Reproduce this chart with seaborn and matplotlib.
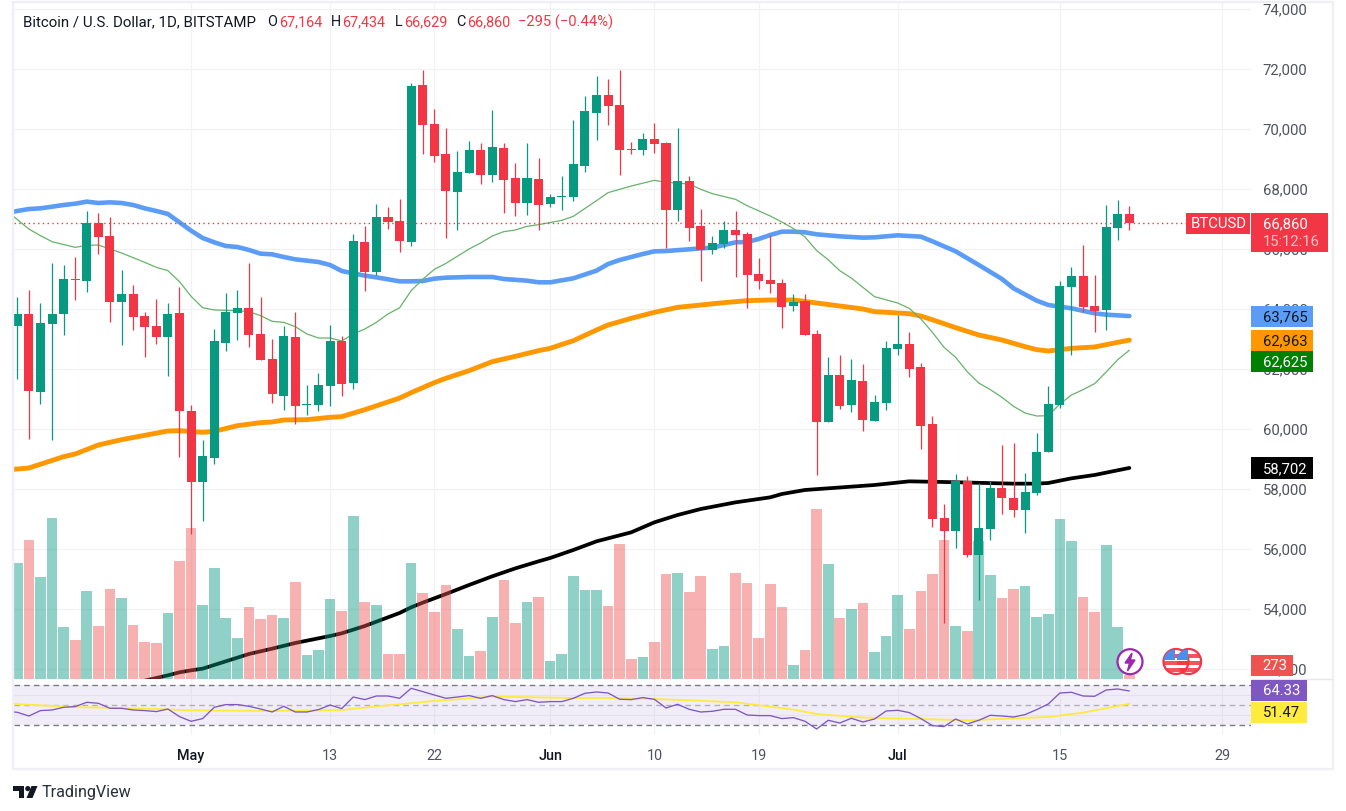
import numpy as np
import pandas as pd
import seaborn as sns
import matplotlib.pyplot as plt
from matplotlib.patches import Rectangle, Circle, Polygon
from matplotlib.transforms import ScaledTranslation

W, H = 1346, 812

# daily candles, Apr 16 is bar 1
opens = [63444, 63833, 61244, 63500, 63833, 65000, 64933, 66867, 66433, 64233, 64500, 63767, 63433, 63067, 63867, 60600,
         58233, 59033, 62867, 63867, 64033, 63167, 62333, 61100, 63067, 60800, 60800, 61433, 62933, 61533, 66233, 65233,
         67067, 66933, 66233, 71467, 70167, 69167, 67900, 68533, 69300, 68467, 69367, 68367, 67533, 68333, 67500, 67733,
         67733, 68767, 70533, 71133, 70800, 69333, 69300, 69667, 69533, 67300, 68267, 66767, 65967, 66167, 66633, 66500,
         65167, 64967, 64867, 64100, 64267, 63167, 60233, 61800, 60800, 61600, 60267, 60867, 62667, 62833, 62067, 60167,
         57033, 56600, 58267, 55800, 56667, 58033, 57700, 57300, 57867, 59233, 60800, 64733, 65100, 64100, 63967, 66700, 67164]
highs = [64400, 64633, 64200, 65533, 65467, 65733, 67267, 67200, 67067, 65300, 64800, 63900, 64333, 64200, 64733, 60800,
         59633, 63333, 64533, 64633, 65533, 64400, 63000, 63433, 63900, 61467, 61867, 63467, 63100, 66500, 66767, 67500,
         67400, 67667, 71533, 71967, 70667, 70033, 69267, 69600, 69533, 70633, 69533, 68867, 69533, 69033, 67833, 68433,
         70300, 71100, 71767, 71667, 71967, 69567, 69867, 70200, 69567, 70033, 68433, 67333, 66433, 66933, 67267, 66567,
         65700, 66467, 65000, 64500, 64500, 63300, 62400, 62467, 62333, 62167, 61133, 62933, 63800, 63233, 62200, 60433,
         57500, 58500, 58433, 58200, 58267, 59467, 59533, 58533, 59867, 61433, 64933, 65400, 66133, 65133, 67467, 67633, 67434]
lows = [61667, 59667, 60833, 59633, 63133, 64300, 64567, 65833, 63567, 62800, 63300, 62400, 62833, 61767, 59067, 56500,
        56944, 58833, 62600, 62967, 62733, 62300, 60867, 60633, 60167, 60467, 60600, 60767, 61100, 61333, 64600, 65133,
        66667, 65900, 66100, 69167, 68900, 66367, 66633, 68533, 68167, 68233, 67200, 67100, 67133, 66633, 67400, 67300,
        67600, 68567, 69633, 70133, 68467, 69167, 69133, 69200, 66033, 66933, 66267, 64933, 65833, 66033, 65067, 64033,
        64667, 64533, 63367, 63933, 63133, 58467, 60233, 60667, 60567, 59933, 60267, 60633, 62467, 61733, 59333, 56733,
        53533, 56033, 55733, 54300, 56300, 57167, 57067, 56533, 57800, 59233, 60700, 62467, 63900, 63233, 63300, 66300, 66629]
closes = [63833, 61278, 63533, 63833, 65000, 64978, 66867, 66400, 64233, 64500, 63733, 63400, 63067, 63833, 60600, 58233,
          59100, 62933, 63900, 64033, 63133, 62300, 61167, 63100, 60767, 60833, 61467, 62933, 61500, 66267, 65233, 67067,
          66900, 66267, 71433, 70133, 69100, 67933, 68567, 69300, 68467, 69400, 68300, 67533, 68367, 67467, 67733, 67767,
          68833, 70600, 71133, 70767, 69300, 69300, 69667, 69500, 67300, 68267, 66700, 65967, 66200, 66633, 66467, 65133,
          64933, 64833, 64067, 64233, 63133, 60233, 61800, 60767, 61633, 60300, 60900, 62700, 62833, 62000, 60100, 57000,
          56600, 58267, 55800, 56700, 58033, 57700, 57300, 57900, 59233, 60833, 64767, 65100, 64067, 63933, 66733, 67167, 66860]
volumes = [9446, 11330, 8300, 13131, 4204, 3140, 7153, 4286, 7316, 6579, 4368, 2976, 2894, 5351, 9610, 12312, 6006, 9036,
           4941, 3303, 5842, 4859, 5187, 4941, 7890, 1911, 2320, 6497, 5515, 13295, 6252, 6006, 1993, 1993, 9446, 6989,
           5433, 7644, 4040, 1829, 2239, 5023, 8054, 4532, 6252, 6661, 1420, 1993, 8381, 7235, 7235, 5924, 11002, 1583,
           1747, 2976, 8545, 8627, 7071, 8381, 2402, 2648, 8627, 7808, 3303, 7726, 5842, 1092, 2320, 13868, 9364, 4941,
           5678, 6170, 2157, 3467, 6825, 4040, 7153, 8545, 11330, 4286, 3877, 11248, 8463, 6579, 7316, 7562, 5023, 5269,
           13049, 11248, 6661, 5433, 10920, 4204, 273]

blue_x = [0, 2, 3, 5, 6, 7, 8, 9, 10, 11, 12, 13, 14, 15, 16, 17, 18, 19, 20, 21, 22, 23, 24, 25, 26, 27, 28, 29, 30, 31,
          32, 33, 34, 35, 36, 37, 38, 40, 42, 43, 45, 46, 47, 49, 51, 52, 53, 55, 56, 57, 59, 60, 61, 63, 64, 65, 66, 67,
          68, 69, 70, 72, 74, 75, 77, 79, 80, 82, 84, 86, 87, 89, 90, 92, 94, 95, 97]
blue_y = [67200, 67333, 67355, 67467, 67511, 67578, 67533, 67555, 67533, 67467, 67355, 67267, 67167, 66889, 66611, 66367,
          66222, 66100, 66067, 65967, 65844, 65822, 65733, 65655, 65611, 65567, 65467, 65267, 65189, 65111, 65055, 64989,
          64922, 64922, 64933, 65011, 65044, 65067, 65067, 65000, 64944, 64889, 64889, 65022, 65278, 65500, 65633, 65833,
          65922, 65933, 65989, 66022, 66044, 66222, 66233, 66333, 66467, 66578, 66578, 66555, 66489, 66422, 66378, 66389,
          66455, 66411, 66255, 65922, 65467, 65000, 64689, 64278, 64133, 64022, 63856, 63811, 63765]
orange_x = [0, 2, 5, 6, 8, 10, 12, 14, 15, 17, 18, 20, 22, 23, 24, 26, 28, 29, 31, 34, 35, 37, 38, 40, 42, 44, 46, 47, 49,
            51, 52, 54, 56, 58, 60, 62, 64, 66, 68, 70, 72, 74, 75, 77, 78, 79, 81, 82, 84, 86, 88, 89, 90, 92, 94, 96, 97]
orange_y = [58633, 58700, 59078, 59167, 59467, 59644, 59789, 59933, 59944, 59889, 59922, 60111, 60211, 60233, 60300, 60311,
            60389, 60411, 60644, 61030, 61210, 61545, 61690, 61944, 62244, 62422, 62611, 62689, 62944, 63300, 63467, 63689,
            63889, 64055, 64133, 64211, 64278, 64300, 64300, 64200, 64100, 64000, 63911, 63867, 63844, 63767, 63511, 63378,
            63133, 62967, 62744, 62644, 62600, 62689, 62733, 62889, 62963]
black_x = [12, 14, 15, 16, 17, 19, 21, 23, 25, 28, 29, 31, 33, 34, 35, 36, 38, 40, 42, 44, 46, 47, 49, 51, 54, 56, 58, 60,
           63, 66, 67, 69, 75, 78, 81, 87, 89, 90, 92, 94, 97]
black_y = [51611, 51789, 51889, 51955, 52011, 52256, 52500, 52678, 52867, 53100, 53189, 53433, 53722, 53867, 54055, 54211,
           54500, 54800, 55089, 55355, 55589, 55700, 55967, 56255, 56556, 56889, 57133, 57333, 57555, 57722, 57833, 57967,
           58133, 58255, 58233, 58178, 58178, 58200, 58355, 58467, 58702]
green_x = [0, 2, 3, 4, 6, 7, 8, 9, 10, 12, 13, 14, 15, 16, 17, 18, 20, 21, 22, 23, 24, 25, 26, 27, 28, 29, 30, 31, 32, 33,
           34, 35, 36, 37, 38, 40, 41, 42, 43, 44, 45, 46, 48, 49, 51, 52, 54, 56, 57, 59, 60, 61, 63, 64, 66, 67, 68, 69,
           70, 71, 72, 73, 75, 77, 78, 79, 80, 81, 82, 83, 84, 85, 86, 87, 88, 89, 90, 91, 92, 93, 94, 95, 96, 97]
green_y = [67300, 66666, 66444, 66244, 66055, 66122, 66133, 66000, 65867, 65555, 65389, 65278, 64911, 64422, 64044, 63967,
           63944, 63911, 63778, 63589, 63555, 63411, 63167, 63033, 63033, 62933, 63167, 63333, 63555, 63833, 64040, 64611,
           64990, 65320, 65520, 66000, 66200, 66433, 66578, 66633, 66755, 66811, 66955, 67089, 67611, 67878, 68100, 68289,
           68222, 68167, 67989, 67844, 67655, 67444, 67100, 66900, 66680, 66400, 65950, 65640, 65278, 65030, 64411, 64200,
           64022, 63667, 63222, 62722, 62389, 61911, 61533, 61311, 61056, 60755, 60533, 60433, 60444, 60833, 61133, 61311,
           61511, 61900, 62311, 62625]

rsi_x = list(range(0, 98))
rsi_y = [44, 43, 39.3, 44.7, 45.3, 48, 48.7, 53, 52, 47, 47, 45.3, 44.7, 43.7, 46.3, 38.7, 34, 36.7, 48, 50.7, 50.7, 49,
         46.3, 43.3, 49, 43.3, 43.3, 45.7, 50.3, 46.7, 58.3, 55.7, 59.3, 59.3, 57, 67, 63.7, 60.3, 57, 58.3, 59.7, 57,
         59.7, 55.7, 53.7, 55.7, 53, 53.7, 53.7, 57, 62, 63.3, 62.3, 56, 55.7, 57.7, 56, 47.3, 51, 46, 43.3, 44, 46, 46,
         40.3, 39.7, 39.7, 36.7, 37.7, 34, 26.3, 35, 32.3, 37, 33.3, 36.3, 44.3, 45, 42.7, 36.7, 29.7, 28.7, 36.3, 31.3,
         35, 40, 39.3, 38.3, 40.7, 45.7, 51.3, 62.3, 63, 59.3, 59, 65.3, 66.3, 64.33]
rsi_ma_x = [0, 6, 13, 16, 23, 29, 33, 37, 42, 49, 52, 56, 59, 63, 68, 70, 74, 80, 83, 90, 93, 97]
rsi_ma_y = [51.7, 48.3, 46.3, 45, 44.3, 45.3, 50, 54.3, 58.7, 57.3, 57.3, 56.3, 55, 53, 45.7, 41.3, 37.7, 36, 35, 38.3,
            42.7, 51.47]

price_ticks = list(range(52000, 76000, 2000))
time_ticks = [16, 28, 37, 47, 56, 65, 77, 91, 105]
time_labels = ['May', '13', '22', 'Jun', '10', '19', 'Jul', '15', '29']
month_labels = ['May', 'Jun', 'Jul']

UP, DOWN = '#089981', '#f23645'
GRID = '#f1f2f4'
TEXT = '#50535e'

sns.set_theme(style="white")
plt.rcParams['font.family'] = ['Roboto', 'DejaVu Sans']


def px_axes(fig, left, top, right, bottom, **kw):
    return fig.add_axes([left / W, 1 - bottom / H, (right - left) / W, (bottom - top) / H], **kw)


candles = pd.DataFrame({'bar': np.arange(1, len(opens) + 1), 'open': opens, 'high': highs,
                        'low': lows, 'close': closes, 'volume': volumes})
candles['dir'] = np.where(candles['close'] >= candles['open'], 'up', 'down')

fig = plt.figure(figsize=(W / 100, H / 100), dpi=100, facecolor='white')
ax = px_axes(fig, 13.5, 3, 1251, 679.5)
ax_vol = ax.twinx()
ax_c = ax.twinx()
ax_rsi = px_axes(fig, 13.5, 680, 1251, 736, sharex=ax)
over = px_axes(fig, 0, 0, W, H)

ax.set_zorder(1)
ax_vol.set_zorder(2)
ax_c.set_zorder(3)
ax_rsi.set_zorder(1)
over.set_zorder(5)
for a in (ax_vol, ax_c, over):
    a.patch.set_alpha(0)

# moving averages sit under the volume and the candles
sns.lineplot(x=black_x, y=black_y, color='black', linewidth=2.7, ax=ax, zorder=3)
sns.lineplot(x=orange_x, y=orange_y, color='#ff9800', linewidth=3.5, ax=ax, zorder=3)
sns.lineplot(x=blue_x, y=blue_y, color='#5b9cf6', linewidth=3.3, ax=ax, zorder=3)
sns.lineplot(x=green_x, y=green_y, color='#66b36a', linewidth=0.9, ax=ax, zorder=3)

ax.set_xlim(0.672, 107.5)
ax.set_ylim(51683, 74233)
ax.set_yticks(price_ticks)
ax.set_yticklabels([f'{t:,}' for t in price_ticks])
ax.set_xticks(time_ticks)
ax.yaxis.tick_right()
ax.tick_params(axis='y', length=0, pad=8.5, labelsize=10.7, labelcolor=TEXT, right=False)
ax.tick_params(axis='x', length=0, labelbottom=False)
for lab in ax.get_yticklabels():
    lab.set_transform(lab.get_transform() + ScaledTranslation(0, 1.2 / 100, fig.dpi_scale_trans))
ax.grid(True, color=GRID, linewidth=0.85)
ax.set_axisbelow(True)
ax.set_xlabel('')
ax.set_ylabel('')

sns.barplot(data=candles, x='bar', y='volume', hue='dir', hue_order=['up', 'down'],
            palette={'up': UP, 'down': '#ef5350'}, native_scale=True, dodge=False, width=0.92,
            errorbar=None, saturation=1, alpha=0.45, linewidth=0, legend=False, ax=ax_vol)
ax_vol.set_ylim(0, 55470)
ax_vol.set_xlim(0.672, 107.5)
ax_vol.axis('off')

colors = [UP if d == 'up' else DOWN for d in candles['dir']]
ax_c.vlines(candles['bar'], candles['low'], candles['high'], colors=colors, linewidth=0.9)
ax_c.bar(candles['bar'], (candles['close'] - candles['open']).abs().clip(lower=25),
         bottom=candles[['open', 'close']].min(axis=1), width=0.78, color=colors, linewidth=0)
ax_c.axhline(closes[-1], color=DOWN, linewidth=1, linestyle=(0, (1, 2.4)))
ax_c.set_ylim(51683, 74233)
ax_c.set_xlim(0.672, 107.5)
ax_c.axis('off')

# rsi pane
ax_rsi.axhspan(30, 70, color='#7e57c2', alpha=0.1, linewidth=0)
for level, col in ((70, '#787b86'), (50, '#b0b1b8'), (30, '#787b86')):
    ax_rsi.axhline(level, color=col, linewidth=1, linestyle=(0, (4, 3)))
sns.lineplot(x=rsi_ma_x, y=rsi_ma_y, color='#ffeb3b', linewidth=1.3, ax=ax_rsi)
sns.lineplot(x=rsi_x, y=rsi_y, color='#7e57c2', linewidth=0.95, ax=ax_rsi)
ax_rsi.set_ylim(20.3, 76.3)
ax_rsi.set_yticks([40, 60])
ax_rsi.set_xticks(time_ticks)
ax_rsi.set_xticklabels(time_labels)
ax_rsi.tick_params(axis='y', length=0, labelright=False, labelleft=False)
ax_rsi.tick_params(axis='x', length=0, pad=9.5, labelsize=10.4, labelcolor=TEXT)
for lab in ax_rsi.get_xticklabels():
    if lab.get_text() in month_labels:
        lab.set_color('#131722')
        lab.set_fontweight('medium')
ax_rsi.grid(True, color=GRID, linewidth=0.85)
ax_rsi.set_axisbelow(True)
ax_rsi.set_xlabel('')
ax_rsi.set_ylabel('')

for a in (ax, ax_rsi):
    sns.despine(ax=a, left=True, bottom=True, right=True, top=True)

# everything that sits over the panes is placed in pixels
over.set_xlim(0, W)
over.set_ylim(H, 0)
over.axis('off')
over.add_patch(Rectangle((12.5, 3), 1320.5, 767, fill=False, edgecolor='#eff0f6', linewidth=1.7))
over.plot([1251, 1332], [679.5, 679.5], color='#e6e7ee', linewidth=1)


def tag(x0, x1, y0, y1, color, text, tcolor='white', tx=1263):
    over.add_patch(Rectangle((x0, y0), x1 - x0, y1 - y0, color=color, linewidth=0, zorder=4))
    over.text(tx, (y0 + y1) / 2, text, color=tcolor, fontsize=10.7, va='center', ha='left', zorder=5)


tag(1251, 1328, 214, 252.7, DOWN, '')
over.text(1263, 224, f'{closes[-1]:,}', color='white', fontsize=10.7, va='center', zorder=5)
over.text(1263, 242, '15:12:16', color='#fdc3c9', fontsize=10.7, va='center', zorder=5)
tag(1186, 1250, 214, 234.5, DOWN, 'BTCUSD', tx=1191)
tag(1251, 1313, 307, 328, '#5b9cf6', f'{blue_y[-1]:,}', '#131722')
tag(1251, 1313, 331, 352, '#ff9800', f'{orange_y[-1]:,}', '#131722')
tag(1251, 1313, 352, 373, '#008000', f'{green_y[-1]:,}')
tag(1251, 1313, 458, 480, '#000000', f'{black_y[-1]:,}')
tag(1251, 1293, 656, 677, '#ef5350', f'{volumes[-1]}', tx=1262)
tag(1251, 1307, 681, 702, '#7e57c2', f'{rsi_y[-1]:.2f}')
tag(1251, 1307, 703, 724, '#ffeb3b', f'{rsi_ma_y[-1]:.2f}', '#131722')

# header line
header = [(23, 'Bitcoin / U.S. Dollar, 1D, BITSTAMP', '#131722', 10.85), (267, 'O', '#131722', 10.4),
          (279, '67,164', DOWN, 10.4), (331, 'H', '#131722', 10.4), (342, '67,434', DOWN, 10.4),
          (395, 'L', '#131722', 10.4), (404, '66,629', DOWN, 10.4), (456, 'C', '#131722', 10.4),
          (467, '66,860', DOWN, 10.4), (518, '\u2212295 (\u22120.44%)', DOWN, 10.6)]
for x, s, c, fs in header:
    over.text(x, 22, s, color=c, fontsize=fs, va='center', ha='left')

# event markers near the last bar
over.add_patch(Circle((1130, 662.7), 12.5, facecolor='white', edgecolor='#9c27b0', linewidth=1.6, zorder=6))
over.add_patch(Polygon([[1132, 654], [1125, 664], [1129.5, 664], [1127.5, 672], [1135, 661], [1130.5, 661]],
                       color='#9c27b0', zorder=7))
for cx in (1188.6, 1176):
    disc = Circle((cx, 662.5), 12.5, facecolor='white', edgecolor=DOWN, linewidth=1.6, zorder=6)
    over.add_patch(disc)
    for y0 in (655, 662, 669):
        r = Rectangle((cx - 12, y0), 24, 3.5, color=DOWN, alpha=0.85, linewidth=0, zorder=6.5)
        over.add_patch(r)
        r.set_clip_path(disc)
    c = Rectangle((cx - 12, 651), 11, 10, color='#4c8df0', linewidth=0, zorder=6.6)
    over.add_patch(c)
    c.set_clip_path(disc)

# logo and brand
LOGO = '#131722'
over.add_patch(Polygon([[13, 787], [24, 787], [24, 799], [18.5, 799], [18.5, 792], [13, 792]], color=LOGO, linewidth=0))
over.add_patch(Circle((27.8, 789.6), 2.6, color=LOGO, linewidth=0))
over.add_patch(Polygon([[31.5, 787], [37.5, 787], [32.5, 799], [26.5, 799]], color=LOGO, linewidth=0))
over.text(42, 793, 'TradingView', color='#2a2e39', fontsize=11.6, va='center', ha='left')

fig.savefig('out.png', dpi=100)
